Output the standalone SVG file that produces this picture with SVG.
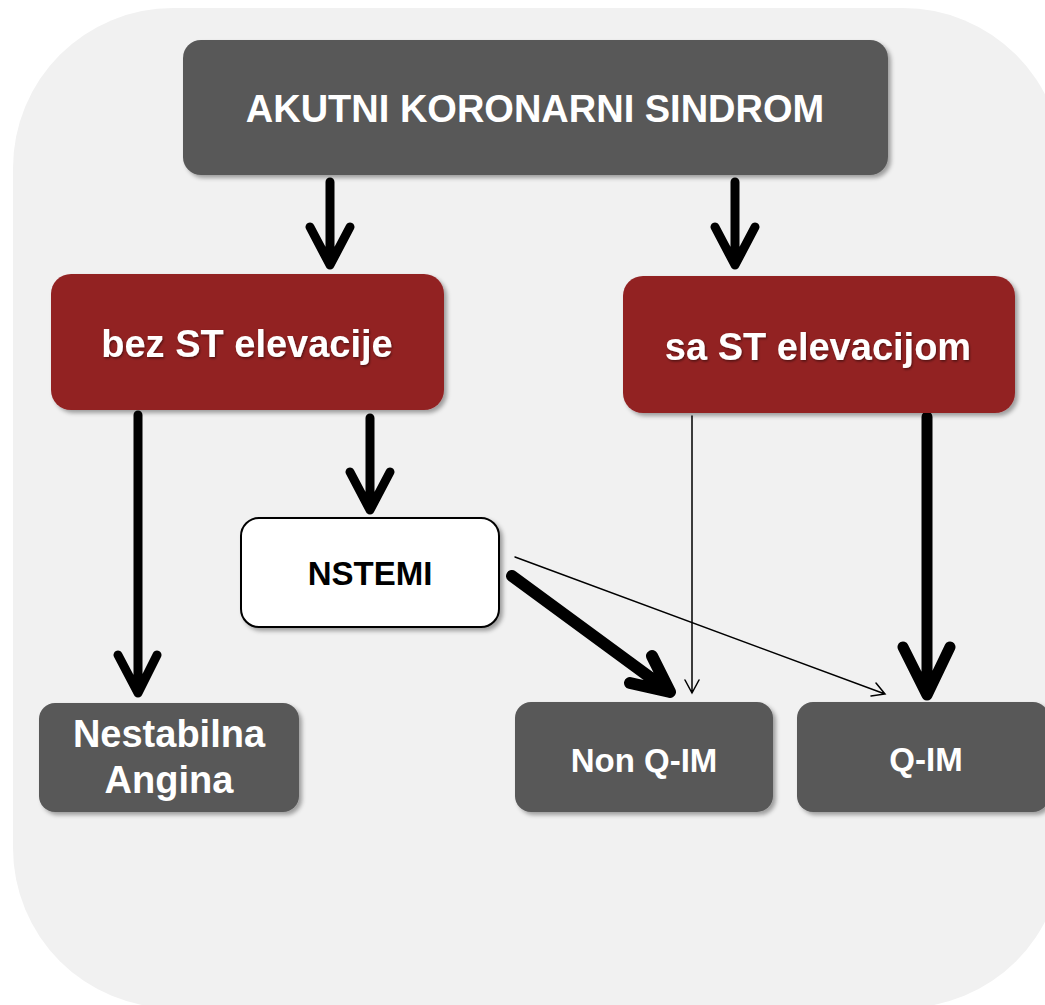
<svg xmlns="http://www.w3.org/2000/svg" width="1045" height="1005" viewBox="0 0 1045 1005">
  <defs>
    <filter id="sh" x="-10%" y="-10%" width="125%" height="130%">
      <feDropShadow dx="3" dy="3" stdDeviation="2" flood-color="#000" flood-opacity="0.35"/>
    </filter>
    <filter id="tsh" x="-5%" y="-20%" width="110%" height="150%">
      <feDropShadow dx="1" dy="1.5" stdDeviation="1" flood-color="#000" flood-opacity="0.45"/>
    </filter>
  </defs>
  <style>
    .gray { fill: #595959; }
    .red { fill: #922224; }
    .white { fill: #ffffff; stroke: #000000; stroke-width: 2; }
    .lbl { font-family: "Liberation Sans", Arial, sans-serif; font-weight: bold; text-anchor: middle; fill: #ffffff; }
    .dark { fill: #000000; }
    .thick { fill: none; stroke: #000000; stroke-linecap: round; stroke-linejoin: round; }
    .thin { fill: none; stroke: #000000; stroke-width: 1.5; stroke-linecap: round; stroke-linejoin: miter; }
  </style>

  <rect x="0" y="0" width="1045" height="1005" fill="#ffffff"/>
  <rect x="13" y="8" width="1050" height="1000" rx="160" ry="160" fill="#f1f1f1"/>

  <g id="connectors">
    <path class="thick" stroke-width="9" d="M330,182 V265 M310,227 L330,265 L350,227"/>
    <path class="thick" stroke-width="9" d="M735,182 V265 M715,227 L735,265 L755,227"/>
    <path class="thick" stroke-width="9" d="M138,415 V693 M118,655 L138,693 L157,655"/>
    <path class="thick" stroke-width="9" d="M370,418 V510 M350,472 L370,510 L390,472"/>
    <path class="thin" d="M692,416 V693 M685,680 L692,693 L699,680"/>
    <path class="thick" stroke-width="11" d="M927,417 V695 M903,647 L927,695 L950,647"/>
    <path class="thick" stroke-width="12" d="M512,576 L670,692 M630,683 L670,692 L652,656"/>
    <path class="thin" d="M515,557 L885,694 M871,696 L885,694 L876,683"/>
  </g>

  <g id="node-akutni">
    <rect class="gray" x="183" y="40" width="705" height="135" rx="18" filter="url(#sh)"/>
    <text class="lbl" x="535" y="122" font-size="38">AKUTNI KORONARNI SINDROM</text>
  </g>

  <g id="node-bez-st">
    <rect class="red" x="51" y="274" width="393" height="136" rx="20" filter="url(#sh)"/>
    <text class="lbl" x="247" y="357" font-size="38" filter="url(#tsh)">bez ST elevacije</text>
  </g>

  <g id="node-sa-st">
    <rect class="red" x="623" y="276" width="392" height="137" rx="20" filter="url(#sh)"/>
    <text class="lbl" x="818" y="360" font-size="38" filter="url(#tsh)">sa ST elevacijom</text>
  </g>

  <g id="node-nstemi">
    <rect class="white" x="241" y="518" width="258" height="109" rx="18" filter="url(#sh)"/>
    <text class="lbl dark" x="370" y="585" font-size="33">NSTEMI</text>
  </g>

  <g id="node-nestabilna">
    <rect class="gray" x="39" y="703" width="260" height="109" rx="16" filter="url(#sh)"/>
    <text class="lbl" x="169" y="747" font-size="38">Nestabilna</text>
    <text class="lbl" x="169" y="793" font-size="38">Angina</text>
  </g>

  <g id="node-nonqim">
    <rect class="gray" x="515" y="702" width="258" height="110" rx="16" filter="url(#sh)"/>
    <text class="lbl" x="644" y="772" font-size="33">Non Q-IM</text>
  </g>

  <g id="node-qim">
    <rect class="gray" x="797" y="702" width="252" height="110" rx="16" filter="url(#sh)"/>
    <text class="lbl" x="926" y="771" font-size="33">Q-IM</text>
  </g>
</svg>
